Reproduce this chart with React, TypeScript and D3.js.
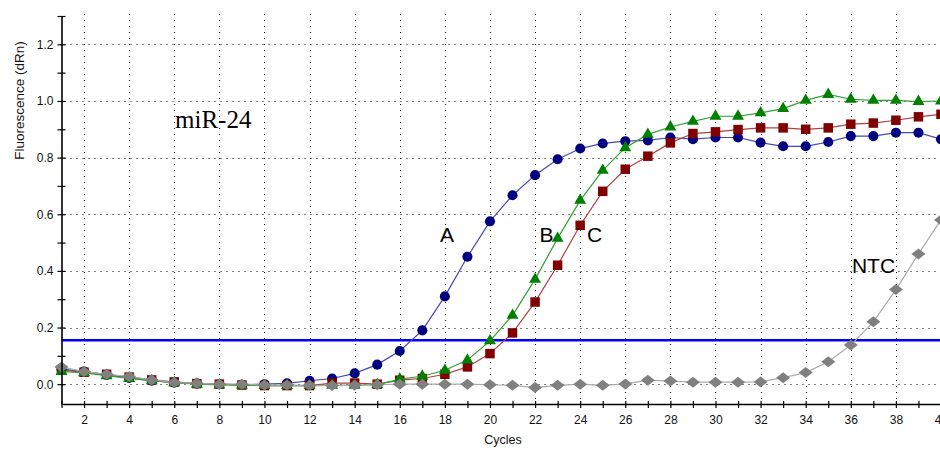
import React from 'react';
import * as d3 from 'd3';

// amplification cycles (x categories)
const cycles = [1, 2, 3, 4, 5, 6, 7, 8, 9, 10, 11, 12, 13, 14, 15, 16, 17, 18, 19, 20,
    21, 22, 23, 24, 25, 26, 27, 28, 29, 30, 31, 32, 33, 34, 35, 36, 37, 38, 39, 40];

// fluorescence (dRn) per cycle
const sampleA = [0.053, 0.045, 0.033, 0.022, 0.012, 0.005, 0.002, 0.0, -0.002, 0.0,
    0.003, 0.012, 0.02, 0.038, 0.069, 0.117, 0.19, 0.31, 0.45, 0.575,
    0.667, 0.738, 0.794, 0.832, 0.85, 0.858, 0.861, 0.871, 0.865, 0.871,
    0.871, 0.853, 0.84, 0.84, 0.855, 0.876, 0.876, 0.888, 0.888, 0.865];
const sampleB = [0.045, 0.04, 0.03, 0.02, 0.012, 0.005, 0.0, -0.003, -0.004, -0.005,
    -0.005, -0.005, -0.004, -0.004, -0.002, 0.018, 0.028, 0.049, 0.085, 0.153,
    0.243, 0.37, 0.515, 0.649, 0.755, 0.835, 0.882, 0.908, 0.928, 0.946,
    0.946, 0.958, 0.973, 1.002, 1.023, 1.006, 1.002, 1.002, 0.998, 1.0];
const sampleC = [0.05, 0.042, 0.035, 0.025, 0.015, 0.008, 0.002, 0.0, -0.003, -0.005,
    -0.005, -0.005, 0.004, 0.004, 0.0, 0.014, 0.02, 0.035, 0.061, 0.108,
    0.181, 0.29, 0.42, 0.561, 0.681, 0.759, 0.805, 0.852, 0.885, 0.891,
    0.899, 0.905, 0.905, 0.9, 0.905, 0.918, 0.922, 0.932, 0.944, 0.953];
const sampleNTC = [0.061, 0.044, 0.035, 0.027, 0.015, 0.006, 0.003, 0.0, 0.0, -0.003,
    -0.003, -0.004, -0.005, -0.004, -0.002, 0.0, 0.0, 0.0, 0.0, -0.002,
    -0.004, -0.012, -0.004, 0.0, -0.004, 0.001, 0.014, 0.011, 0.007, 0.007,
    0.007, 0.008, 0.023, 0.041, 0.079, 0.138, 0.22, 0.334, 0.46, 0.58];

const threshold = 0.155;

const yTickValues = [0, 0.1, 0.2, 0.3, 0.4, 0.5, 0.6, 0.7, 0.8, 0.9, 1.0, 1.1, 1.2, 1.3];
const yGridValues = [0, 0.2, 0.4, 0.6, 0.8, 1.0, 1.2];
const xLabelCycles = [2, 4, 6, 8, 10, 12, 14, 16, 18, 20, 22, 24, 26, 28, 30, 32, 34, 36, 38, 40];

const curveLabels = [
    {text: 'A', cycle: 17.78, value: 0.503},
    {text: 'B', cycle: 22.2, value: 0.503},
    {text: 'C', cycle: 24.3, value: 0.503},
    {text: 'NTC', cycle: 36.05, value: 0.393}
];

class App extends React.Component {
    node: HTMLDivElement | null = null;

    componentDidMount() {
        this.drawChart(940, 451);
    }

    drawChart(width: number, height: number) {
        const root = d3.select(this.node);
        root.selectAll('*').remove();
        const svg = root.append('svg')
            .attr('width', width)
            .attr('height', height)
            .style('position', 'absolute')
            .style('left', 0)
            .style('top', 0)
            .style('background', '#fff');

        const font = 'Liberation Sans, Arial, sans-serif';
        const left = 61.5, bottom = 404, top = 16;

        const x = d3.scaleLinear().domain([1, 40]).range([left, 941]);
        const y = d3.scaleLinear().domain([-0.07, 1.3]).range([bottom, top]);

        // dotted grid
        const grid = svg.append('g')
            .attr('stroke', '#000')
            .attr('stroke-width', 1)
            .attr('stroke-dasharray', '1,5');
        grid.selectAll('.vg')
            .data(xLabelCycles)
            .enter().append('line')
            .attr('x1', d => Math.round(x(d)) + 0.5)
            .attr('x2', d => Math.round(x(d)) + 0.5)
            .attr('y1', top - 2)
            .attr('y2', bottom);
        grid.selectAll('.hg')
            .data(yGridValues)
            .enter().append('line')
            .attr('x1', left + 3)
            .attr('x2', width)
            .attr('y1', d => Math.round(y(d)) + 0.5)
            .attr('y2', d => Math.round(y(d)) + 0.5);

        // threshold
        svg.append('line')
            .attr('x1', left)
            .attr('x2', width)
            .attr('y1', y(threshold))
            .attr('y2', y(threshold))
            .attr('stroke', '#0000ff')
            .attr('stroke-width', 2.5);

        const series = [
            {data: sampleA, fill: '#000080', stroke: '#4646b4', shape: 'circle'},
            {data: sampleC, fill: '#800000', stroke: '#b04040', shape: 'square'},
            {data: sampleB, fill: '#008000', stroke: '#30a030', shape: 'triangle'},
            {data: sampleNTC, fill: '#808080', stroke: '#ababab', shape: 'diamond'}
        ];

        const line = d3.line<number>()
            .x((d, i) => x(cycles[i]))
            .y(d => y(d));

        const symbolPath = (shape: string) => {
            if (shape === 'circle') return d3.symbol().type(d3.symbolCircle).size(80)();
            if (shape === 'square') return d3.symbol().type(d3.symbolSquare).size(90)();
            if (shape === 'triangle') return d3.symbol().type(d3.symbolTriangle).size(62)();
            return 'M-7,0L0,-5.5L7,0L0,5.5Z';
        };

        series.forEach(s => {
            const g = svg.append('g');
            g.append('path')
                .attr('d', line(s.data))
                .attr('fill', 'none')
                .attr('stroke', s.stroke)
                .attr('stroke-width', 1.2);
            g.selectAll('.pt')
                .data(s.data)
                .enter().append('path')
                .attr('d', symbolPath(s.shape))
                .attr('transform', (d, i) => `translate(${x(cycles[i])},${y(d)})`)
                .attr('fill', s.fill);
        });

        // axes
        const yAxis = d3.axisLeft(y)
            .tickValues(yTickValues)
            .tickSizeInner(4)
            .tickSizeOuter(0)
            .tickFormat((d: any) => Math.round(d * 10) % 2 === 0 ? d3.format('.1f')(d) : '');
        const yg = svg.append('g')
            .attr('transform', `translate(${left},0)`)
            .call(yAxis);
        yg.selectAll('.tick line').attr('x1', 4).attr('stroke', '#000').attr('stroke-width', 1.2);
        yg.select('.domain').attr('stroke', '#000').attr('stroke-width', 1.6);
        yg.selectAll('.tick text')
            .attr('x', -8)
            .attr('font-family', font)
            .attr('font-size', 12)
            .attr('fill', '#111');

        const xAxis = d3.axisBottom(x)
            .tickValues(cycles)
            .tickSizeInner(4)
            .tickSizeOuter(0)
            .tickFormat((d: any) => xLabelCycles.indexOf(d) >= 0 ? String(d) : '');
        const xg = svg.append('g')
            .attr('transform', `translate(0,${bottom})`)
            .call(xAxis);
        xg.selectAll('.tick line').attr('y1', -3).attr('stroke', '#000').attr('stroke-width', 1.2);
        xg.select('.domain').attr('stroke', '#000').attr('stroke-width', 1.6);
        xg.selectAll('.tick text')
            .attr('y', 20)
            .attr('dy', 0)
            .attr('font-family', font)
            .attr('font-size', 12)
            .attr('fill', '#111');

        // axis titles
        svg.append('text')
            .attr('transform', 'translate(24,100.5) rotate(-90)')
            .attr('text-anchor', 'middle')
            .attr('font-family', font)
            .attr('font-size', 13.5)
            .attr('fill', '#111')
            .text('Fluorescence (dRn)');
        svg.append('text')
            .attr('x', 503)
            .attr('y', 444)
            .attr('text-anchor', 'middle')
            .attr('font-family', font)
            .attr('font-size', 12.5)
            .attr('fill', '#111')
            .text('Cycles');

        // annotations
        svg.append('text')
            .attr('x', 175)
            .attr('y', 128)
            .attr('font-family', 'Liberation Serif, Times New Roman, serif')
            .attr('font-size', 25)
            .attr('fill', '#000')
            .text('miR-24');
        svg.selectAll('.lbl')
            .data(curveLabels)
            .enter().append('text')
            .attr('x', d => x(d.cycle))
            .attr('y', d => y(d.value))
            .attr('font-family', font)
            .attr('font-size', 21)
            .attr('fill', '#000')
            .text(d => d.text);
    }

    render() {
        return (
            <div ref={el => { this.node = el; }}></div>
        );
    }
}

export default App;
